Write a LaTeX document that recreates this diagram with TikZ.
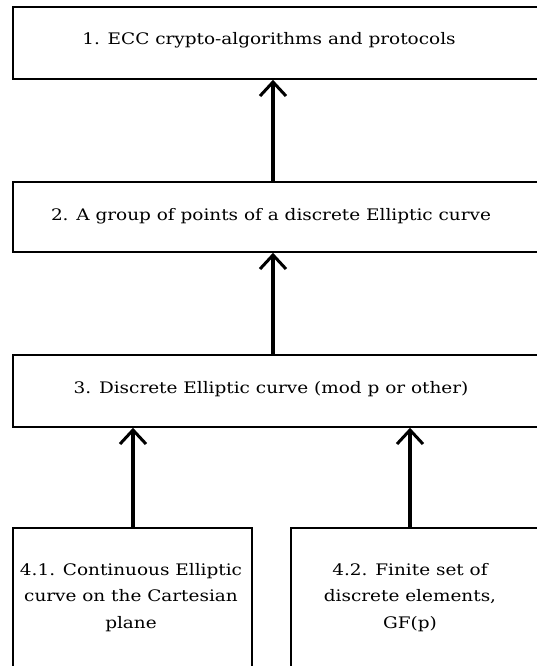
\documentclass[tikz,border=0pt]{standalone}
\usepackage{fontspec}
\setmainfont{DejaVu Serif}[FakeStretch=1.16]
\usetikzlibrary{arrows.meta}
\begin{document}
\begin{tikzpicture}[x=1pt,y=-1pt,
  box/.style={draw=black, line width=1.6pt, fill=none, inner sep=0pt},
  lbl/.style={font=\fontsize{15.9}{26.5}\selectfont, inner sep=0pt, align=center},
  up/.style={line width=3.4pt, -{Straight Barb[length=14pt,width=26pt,line width=3pt]}}]
\useasboundingbox (0,0) rectangle (537,666);
\begin{scope}
\clip (0,0) rectangle (537,666);
\node[box, minimum width=547pt, minimum height=72pt] (b1) at (286.5,43) {};
\node[box, minimum width=547pt, minimum height=70pt] (b2) at (286.5,217) {};
\node[box, minimum width=547pt, minimum height=72pt] (b3) at (286.5,391) {};
\node[box, minimum width=239pt, minimum height=172pt] (b41) at (132.5,614) {};
\node[box, minimum width=269pt, minimum height=172pt] (b42) at (425.5,614) {};
\end{scope}
\node[lbl] (t1) at (269,40) {1. ECC crypto-algorithms and protocols};
\node[lbl] (t2) at (271,216) {2. A group of points of a discrete Elliptic curve};
\node[lbl] (t3) at (271,389) {3. Discrete Elliptic curve (mod p or other)};
\node[lbl, anchor=north] (t41) at (131,563) {4.1. Continuous Elliptic\\curve on the Cartesian\\plane};
\node[lbl, anchor=north] (t42) at (410,563) {4.2. Finite set of\\discrete elements,\\GF(p)};
\draw[up] (b2.north -| 273,0) -- (b1.south -| 273,0);
\draw[up] (b3.north -| 273,0) -- (b2.south -| 273,0);
\draw[up] (b41.north -| 133,0) -- (b3.south -| 133,0);
\draw[up] (b42.north -| 410,0) -- (b3.south -| 410,0);
\end{tikzpicture}
\end{document}
